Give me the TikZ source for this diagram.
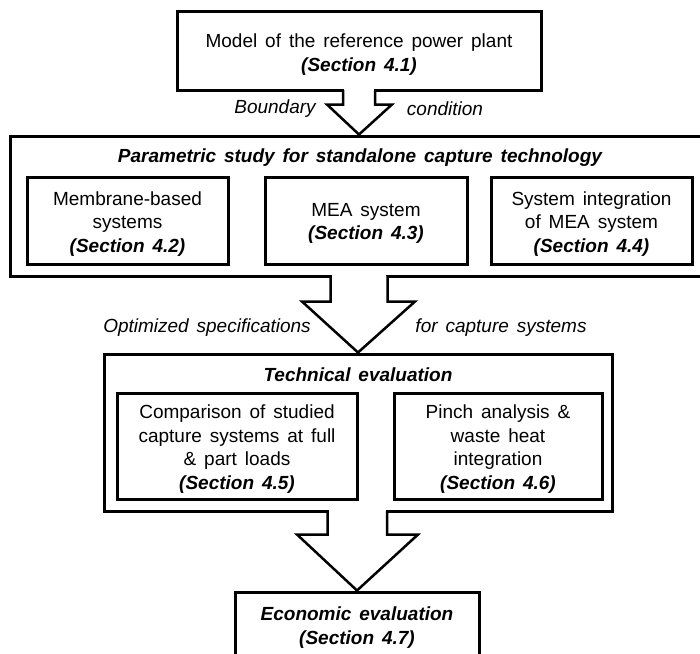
\documentclass[tikz,border=0pt]{standalone}
\usepackage{fontspec}
\setmainfont{Liberation Sans}[WordSpace=1.5]
\usetikzlibrary{calc}
\newcommand\dtxt{\fontsize{19}{23.7}\selectfont}
\newcommand\secb[1]{\textbf{\textit{#1}}}
\begin{document}
\begin{tikzpicture}[x=1pt,y=-1pt,
  box/.style={draw, line width=3pt, fill=white, inner sep=0pt},
  txt/.style={inner sep=0pt, align=center, font=\dtxt},
  lbl/.style={inner sep=0pt, font=\dtxt\itshape},
  ttl/.style={inner sep=0pt, font=\dtxt\bfseries\itshape},
  blockarrow/.style={draw, line width=2.5pt, fill=white, line join=miter}]
\useasboundingbox (0,0) rectangle (700,653);
\clip (0,0) rectangle (700,653);

% boxes
\node[box, minimum width=364, minimum height=79] (b1) at (359,50.5) {};
\node[txt] (b1t) at ($(b1.center)+(0,4)$) {Model of the reference power plant\\\secb{(Section 4.1)}};

\node[box, minimum width=702, minimum height=140] (b2) at (361,206) {};
\node[ttl] (t2) at (360,158) {Parametric study for standalone capture technology};
\node[box, minimum width=201, minimum height=87] (ba) at (127.5,220.5) {};
\node[txt] (bat) at ($(ba.center)+(0,3.5)$) {Membrane-based\\systems\\\secb{(Section 4.2)}};
\node[box, minimum width=202, minimum height=87] (bb) at (366,220.5) {};
\node[txt] (bbt) at ($(bb.center)+(0,3)$) {MEA system\\\secb{(Section 4.3)}};
\node[box, minimum width=201, minimum height=87] (bc) at (591.5,220.5) {};
\node[txt] (bct) at ($(bc.center)+(0,3.5)$) {System integration\\of MEA system\\\secb{(Section 4.4)}};

\node[box, minimum width=508, minimum height=157] (b3) at (358,432.5) {};
\node[ttl] (t3) at (358,375) {Technical evaluation};
\node[box, minimum width=240, minimum height=106] (bd) at (237,446) {};
\node[txt] (bdt) at ($(bd.center)+(0,3)$) {Comparison of studied\\capture systems at full\\\& part loads\\\secb{(Section 4.5)}};
\node[box, minimum width=208, minimum height=106] (be) at (498,446) {};
\node[txt] (bet) at ($(be.center)+(0,3)$) {Pinch analysis \&\\waste heat\\integration\\\secb{(Section 4.6)}};

\node[box, minimum width=244, minimum height=65] (b4) at (357,624.5) {};
\node[txt] (b4t) at ($(b4.center)+(0,3)$) {\secb{Economic evaluation}\\\secb{(Section 4.7)}};

% block arrows
\coordinate (p1) at (b1.south);
\fill[white] ($(p1)+(-14.6,-2.2)$) rectangle ($(p1)+(14.6,2)$);
\draw[blockarrow] ($(p1)+(-16,-1.5)$) -- ($(p1)+(-16,13)$) -- ($(p1)+(-32,13)$)
  -- (p1 |- b2.north) -- ($(p1)+(33,13)$) -- ($(p1)+(16,13)$) -- ($(p1)+(16,-1.5)$);

\coordinate (p2) at (b3.north |- b2.south);
\fill[white] ($(p2)+(-26.1,-2.2)$) rectangle ($(p2)+(28.1,2)$);
\draw[blockarrow] ($(p2)+(-27.5,-1.5)$) -- ($(p2)+(-27.5,24)$) -- ($(p2)+(-56,24)$)
  -- (b3.north) -- ($(p2)+(57,24)$) -- ($(p2)+(29.5,24)$) -- ($(p2)+(29.5,-1.5)$);

\coordinate (p3) at (b4.north |- b3.south);
\fill[white] ($(p3)+(-28.1,-2.2)$) rectangle ($(p3)+(28.6,2)$);
\draw[blockarrow] ($(p3)+(-29.5,-1.5)$) -- ($(p3)+(-29.5,22)$) -- ($(p3)+(-60,22)$)
  -- (b4.north) -- ($(p3)+(61,22)$) -- ($(p3)+(30,22)$) -- ($(p3)+(30,-1.5)$);

% labels
\node[lbl] (l1) at (275,109) {Boundary};
\node[lbl] (l2) at (445,109) {condition};
\node[lbl] (l3) at (207,328) {Optimized specifications};
\node[lbl] (l4) at (501,328) {for capture systems};
\end{tikzpicture}
\end{document}
